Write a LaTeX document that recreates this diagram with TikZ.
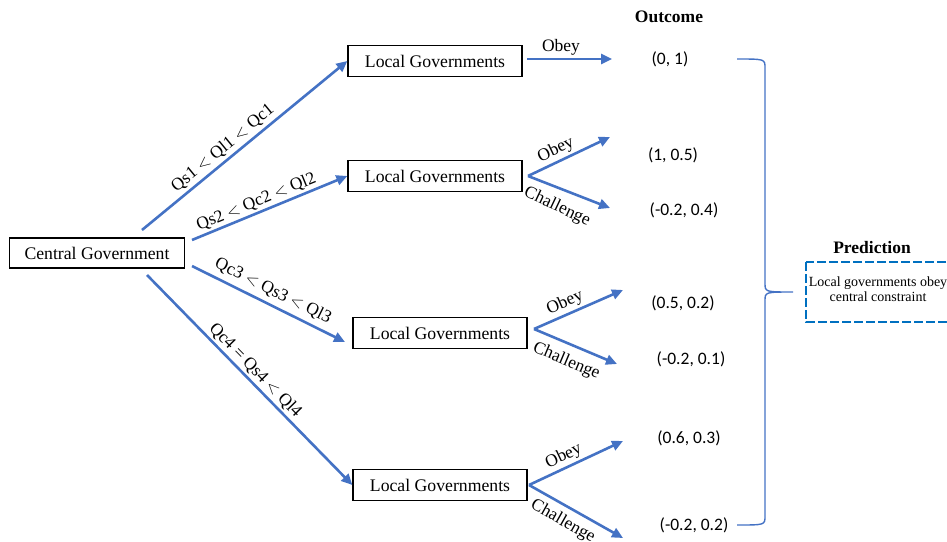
\documentclass[tikz,border=0pt]{standalone}
\usepackage{fontspec}
\setmainfont{Liberation Serif}
\newfontfamily\calib{Carlito}
\usetikzlibrary{arrows.meta}
\definecolor{arrblue}{RGB}{68,114,196}
\definecolor{dashblue}{RGB}{0,112,192}
\begin{document}
\begin{tikzpicture}[x=1pt,y=-1pt,
  govbox/.style={draw=black, line width=1.3pt, minimum width=174pt, minimum height=31pt, inner sep=0pt, font=\fontsize{17.7}{20}\selectfont},
  arr/.style={draw=arrblue, line width=2.6pt, -{Triangle[length=11pt,width=10pt]}},
  lbl/.style={font=\fontsize{17.5}{20}\selectfont, inner sep=2pt},
  chl/.style={lbl, inner sep=6pt},
  outc/.style={font=\calib\fontsize{17.5}{20}\selectfont, inner sep=0pt},
  heading/.style={font=\bfseries\fontsize{17.5}{20}\selectfont, inner sep=0pt},
]
\useasboundingbox (0,0) rectangle (947,541);

% boxes
\node[govbox, minimum width=175pt, minimum height=30pt] (cg) at (97,253) {Central Government};
\node[govbox] (lg1) at (435,61) {Local Governments};
\node[govbox] (lg2) at (435,176) {Local Governments};
\node[govbox] (lg3) at (440,333) {Local Governments};
\node[govbox] (lg4) at (440,485) {Local Governments};

% start points of central arrows
\coordinate (c1) at (142,230);
\coordinate (c2) at (192,240);
\coordinate (c3) at (192,266);
\coordinate (c4) at (147,275);
\coordinate (e3) at (345,342);

\draw[arr] (c1) -- (lg1.west) node[lbl, sloped, above, pos=0.43, inner sep=3pt] {Qs1 $<$ Ql1 $<$ Qc1};
\draw[arr] (c2) -- (lg2.west) node[lbl, sloped, above, pos=0.44] {Qs2 $<$ Qc2 $<$ Ql2};
\draw[arr] (c3) -- (e3) node[lbl, sloped, above, pos=0.49, inner sep=5pt] {Qc3 $<$ Qs3 $<$ Ql3};
\draw[arr] (c4) -- (lg4.west) node[lbl, sloped, above, pos=0.49] {Qc4 = Qs4 $<$ Ql4};

% branch coordinates
\coordinate (b1) at (527,59);
\coordinate (b1o) at (612,59);
\coordinate (b2) at (528,176);
\coordinate (b2o) at (610,137);
\coordinate (b2c) at (610,208);
\coordinate (b3) at (534,329);
\coordinate (b3o) at (623,290);
\coordinate (b3c) at (617,364);
\coordinate (b4) at (529,485);
\coordinate (b4o) at (623,441);
\coordinate (b4c) at (623,538);

\draw[arr] (b1) -- (b1o) node[lbl, above, pos=0.4] {Obey};
\draw[arr] (b2) -- (b2o) node[lbl, sloped, above, pos=0.4] {Obey};
\draw[arr] (b2) -- (b2c) node[chl, sloped, below, pos=0.45, inner sep=9pt, rotate=-4] {Challenge};
\draw[arr] (b3) -- (b3o) node[lbl, sloped, above, pos=0.4] {Obey};
\draw[arr] (b3) -- (b3c) node[chl, sloped, below, pos=0.47, inner sep=8pt] {Challenge};
\draw[arr] (b4) -- (b4o) node[lbl, sloped, above, pos=0.42] {Obey};
\draw[arr] (b4) -- (b4c) node[chl, sloped, below, pos=0.44] {Challenge};

% outcomes
\node[heading] (outh) at (669,17) {Outcome};
\node[outc] (o1) at (670,59) {(0, 1)};
\node[outc] (o2) at (673,155) {(1, 0.5)};
\node[outc] (o3) at (684,210) {(-0.2, 0.4)};
\node[outc] (o4) at (683,303) {(0.5, 0.2)};
\node[outc] (o5) at (691,359) {(-0.2, 0.1)};
\node[outc] (o6) at (689,438) {(0.6, 0.3)};
\node[outc] (o7) at (694,525) {(-0.2, 0.2)};

% brace
\coordinate (bt) at (737,59);
\coordinate (bm) at (793,292);
\coordinate (bb) at (737,525);
\draw[arrblue, line width=1.4pt]
  (bt) .. controls (765,59) .. (765,68) -- (765,283)
  .. controls (765,292) .. (bm)
  .. controls (765,292) .. (765,301) -- (765,516)
  .. controls (765,525) .. (bb);

% prediction
\node[heading] (ph) at (872,248) {Prediction};
\draw[dashblue, line width=1.4pt, dash pattern=on 9pt off 3pt] (806,262) rectangle (960,322);
\node[font=\fontsize{14}{15}\selectfont, align=center, inner sep=0pt] (pt) at (878,289) {Local governments obey\\central constraint};
\end{tikzpicture}
\end{document}
